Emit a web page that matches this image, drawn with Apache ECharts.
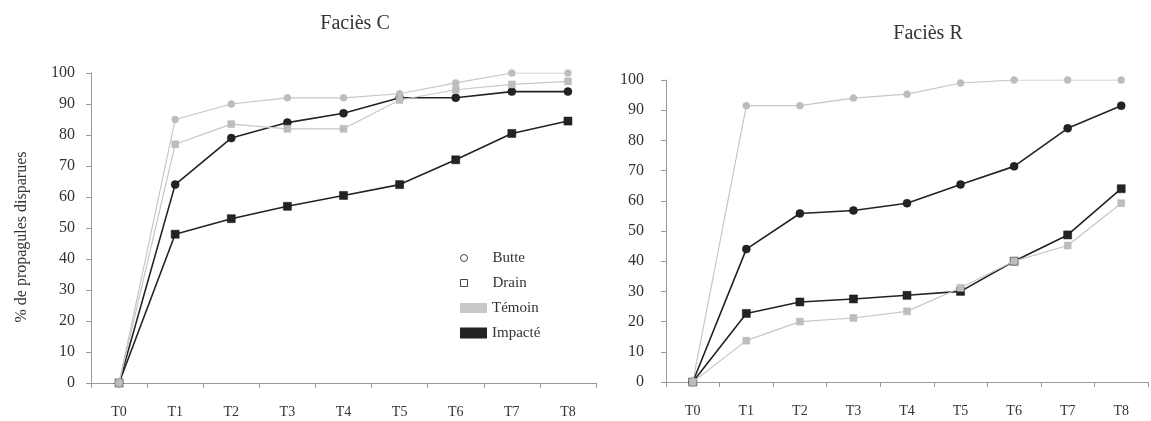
<!DOCTYPE html>
<html>
<head>
<meta charset="utf-8">
<script src="https://cdn.jsdelivr.net/npm/echarts@6/dist/echarts.min.js"></script>
<style>
  html, body { margin: 0; padding: 0; background: #fff; }
  #chart { width: 1151px; height: 421px; }
</style>
</head>
<body>
<div id="chart"></div>
<script>
// ---- data ----
const categories = ['T0', 'T1', 'T2', 'T3', 'T4', 'T5', 'T6', 'T7', 'T8'];
const yTicks = [0, 10, 20, 30, 40, 50, 60, 70, 80, 90, 100];

// Faciès C
const C_butteImpacte = [0, 64, 79, 84, 87, 92, 92, 94, 94];
const C_drainImpacte = [0, 48, 53, 57, 60.5, 64, 72, 80.5, 84.5];
const C_butteTemoin  = [0, 85, 90, 92, 92, 93.3, 96.8, 100, 100];
const C_drainTemoin  = [0, 77, 83.5, 82, 82, 91.3, 94.6, 96.3, 97.3];

// Faciès R
const R_butteImpacte = [0, 44, 55.8, 56.8, 59.2, 65.4, 71.4, 84, 91.5];
const R_drainImpacte = [0, 22.7, 26.5, 27.5, 28.7, 30, 40, 48.7, 64];
const R_butteTemoin  = [0, 91.5, 91.5, 94, 95.3, 99, 100, 100, 100];
const R_drainTemoin  = [0, 13.7, 20, 21.2, 23.4, 31.2, 40, 45.2, 59.2];

const titles = ['Faciès C', 'Faciès R'];
const yName = '% de propagules disparues';
const legendNames = ['Butte', 'Drain', 'Témoin', 'Impacté'];

// ---- styles ----
const FONT = 'Liberation Serif';
const TXT = '#333';
const BLACK = '#232323';
const GRAY = '#c6c6c6';
const GRAY_M = '#bdbdbd';
const AXIS = '#9a9a9a';

function xAxisCfg(gridIndex) {
  return {
    type: 'category', gridIndex, data: categories, boundaryGap: true,
    axisLine: { lineStyle: { color: AXIS, width: 1 } },
    axisTick: { show: true, inside: false, length: 5, lineStyle: { color: AXIS } },
    axisLabel: { color: TXT, fontFamily: FONT, fontSize: 14, margin: 22 },
    splitLine: { show: false }
  };
}
function yAxisCfg(gridIndex, margin, withName) {
  const c = {
    type: 'value', gridIndex, min: yTicks[0], max: yTicks[yTicks.length - 1], interval: 10,
    axisLine: { show: true, lineStyle: { color: AXIS, width: 1 } },
    axisTick: { show: true, length: 5, lineStyle: { color: AXIS } },
    axisLabel: { color: TXT, fontFamily: FONT, fontSize: 16, margin },
    splitLine: { show: false }
  };
  if (withName) {
    Object.assign(c, {
      name: yName, nameLocation: 'middle', nameGap: 61, nameRotate: 90,
      nameTextStyle: { color: TXT, fontFamily: FONT, fontSize: 16, padding: [0, 18, 0, 0] }
    });
  }
  return c;
}
function lineSeries(name, data, axisIdx, color, symbol, size, width, z) {
  return {
    name, type: 'line', data, xAxisIndex: axisIdx, yAxisIndex: axisIdx,
    symbol, symbolSize: size, showAllSymbol: true, z,
    lineStyle: { color, width },
    itemStyle: { color: color === BLACK ? BLACK : GRAY_M, borderColor: color === BLACK ? '#111' : GRAY_M, borderWidth: 0.5 },
    emphasis: { disabled: true }, animation: false
  };
}

function legendCfg(top, itemHeight, padLeft, item) {
  return {
    orient: 'vertical', selectedMode: false, itemGap: 0, itemWidth: 27,
    left: 455, top, itemHeight,
    textStyle: { color: TXT, fontFamily: FONT, fontSize: 15, lineHeight: 16, padding: [0, 0, 0, padLeft] },
    data: [item]
  };
}

const option = {
  backgroundColor: '#fff',
  animation: false,
  title: [
    { text: titles[0], left: 350, top: 9, textAlign: 'center',
      textStyle: { color: TXT, fontFamily: FONT, fontSize: 20, fontWeight: 'normal' } },
    { text: titles[1], left: 923, top: 19, textAlign: 'center',
      textStyle: { color: TXT, fontFamily: FONT, fontSize: 20, fontWeight: 'normal' } }
  ],
  grid: [
    { left: 91, top: 73, width: 505, height: 310 },
    { left: 666, top: 80, width: 482, height: 302 }
  ],
  xAxis: [xAxisCfg(0), xAxisCfg(1)],
  yAxis: [yAxisCfg(0, 16, true), yAxisCfg(1, 22, false)],
  legend: [
    legendCfg(245, 7, 10, { name: legendNames[0], icon: 'circle', itemStyle: { color: '#fff', borderColor: '#444', borderWidth: 1 } }),
    legendCfg(270, 7, 10, { name: legendNames[1], icon: 'path://M0,0L1,0L1,1L0,1Z', itemStyle: { color: '#fff', borderColor: '#444', borderWidth: 1 } }),
    legendCfg(295, 10, 0, { name: legendNames[2], icon: 'rect', itemStyle: { color: '#c8c8c8', borderWidth: 0 } }),
    legendCfg(320, 11, 0, { name: legendNames[3], icon: 'rect', itemStyle: { color: BLACK, borderWidth: 0 } })
  ],
  series: [
    // legend-only series
    { name: legendNames[0], type: 'line', data: [], xAxisIndex: 0, yAxisIndex: 0 },
    { name: legendNames[1], type: 'line', data: [], xAxisIndex: 0, yAxisIndex: 0 },
    { name: legendNames[2], type: 'line', data: [], xAxisIndex: 0, yAxisIndex: 0 },
    { name: legendNames[3], type: 'line', data: [], xAxisIndex: 0, yAxisIndex: 0 },
    // Faciès C
    lineSeries('C Butte Impacté', C_butteImpacte, 0, BLACK, 'circle', 8, 1.6, 2),
    lineSeries('C Drain Impacté', C_drainImpacte, 0, BLACK, 'rect', 8, 1.6, 2),
    lineSeries('C Butte Témoin', C_butteTemoin, 0, GRAY, 'circle', 7, 1.2, 3),
    lineSeries('C Drain Témoin', C_drainTemoin, 0, GRAY, 'rect', 7, 1.2, 3),
    // Faciès R
    lineSeries('R Butte Impacté', R_butteImpacte, 1, BLACK, 'circle', 8, 1.6, 2),
    lineSeries('R Drain Impacté', R_drainImpacte, 1, BLACK, 'rect', 8, 1.6, 2),
    lineSeries('R Butte Témoin', R_butteTemoin, 1, GRAY, 'circle', 7, 1.2, 3),
    lineSeries('R Drain Témoin', R_drainTemoin, 1, GRAY, 'rect', 7, 1.2, 3)
  ]
};

const chart = echarts.init(document.getElementById('chart'), null, { renderer: 'canvas' });
chart.setOption(option);
</script>
</body>
</html>
